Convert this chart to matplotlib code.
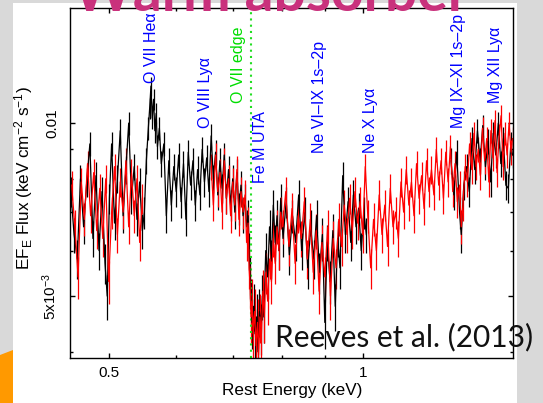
import matplotlib.pyplot as plt
from matplotlib.patches import Rectangle, Polygon
from matplotlib.ticker import FixedLocator, NullFormatter

plt.rcParams['font.family'] = ['Liberation Sans', 'DejaVu Sans']
plt.rcParams['mathtext.fontset'] = 'custom'
plt.rcParams['mathtext.rm'] = 'Liberation Sans'
plt.rcParams['mathtext.it'] = 'Liberation Sans:italic'

# black spectrum (flux in 1e-3 keV cm^-2 s^-1)
e_black_lo = [0.450, 0.454, 0.458, 0.462, 0.466, 0.470, 0.474, 0.478, 0.482, 0.486,
              0.490, 0.494, 0.497, 0.500, 0.503, 0.507, 0.511, 0.515, 0.519, 0.523,
              0.527, 0.531, 0.535, 0.539, 0.543, 0.547,
              0.550, 0.553, 0.556, 0.558, 0.560, 0.562, 0.564, 0.566, 0.568, 0.570,
              0.573, 0.576, 0.580, 0.584, 0.588, 0.592, 0.596, 0.600, 0.604, 0.608,
              0.612, 0.616, 0.620, 0.624, 0.628, 0.632, 0.636, 0.640, 0.644, 0.648,
              0.652, 0.656, 0.660, 0.664, 0.668, 0.672, 0.676, 0.680, 0.684, 0.688,
              0.692, 0.696, 0.700, 0.704, 0.708, 0.712, 0.716, 0.720,
              0.724, 0.727, 0.730, 0.732, 0.734, 0.736, 0.738, 0.741, 0.744, 0.747,
              0.750, 0.753, 0.756, 0.759, 0.762, 0.766, 0.770, 0.774, 0.778, 0.782,
              0.786, 0.790, 0.794, 0.798,
              0.803, 0.810, 0.817, 0.824, 0.831, 0.838, 0.845, 0.852, 0.859, 0.866,
              0.873, 0.880, 0.887, 0.894, 0.900, 0.906, 0.913, 0.920, 0.926, 0.932,
              0.938, 0.945, 0.952, 0.959, 0.966, 0.973, 0.980, 0.987, 0.994, 1.001,
              1.008]
f_black_lo = [7.6, 6.4, 5.8, 8.0, 6.6, 7.9, 9.2, 6.3, 8.1, 6.0,
              7.6, 5.7, 5.0, 7.4, 9.2, 6.7, 8.0, 9.7, 6.9, 8.3,
              10.0, 7.4, 8.4, 6.8, 7.9, 6.5,
              7.0, 8.6, 9.8, 10.6, 11.6, 10.2, 11.0, 9.7, 10.4, 9.1,
              9.8, 8.5, 9.2, 6.9, 8.6, 7.2, 8.4, 7.6, 8.8, 7.3,
              8.5, 6.8, 8.9, 7.8, 8.6, 7.2, 8.3, 7.5, 9.0, 7.9,
              8.7, 7.6, 9.5, 8.0, 8.9, 7.5, 8.6, 7.7, 8.8, 7.4,
              8.3, 7.2, 8.0, 7.0, 8.2, 7.1, 7.8, 6.9,
              7.4, 6.6, 6.9, 6.0, 5.4, 4.9, 4.5, 4.8, 4.3, 4.6,
              4.0, 4.7, 4.4, 5.0, 4.6, 6.0, 5.4, 6.6, 5.8, 7.2,
              6.2, 6.9, 6.0, 7.4,
              6.3, 7.3, 5.9, 6.9, 6.2, 7.5, 6.0, 7.0, 5.6, 6.6,
              5.8, 6.9, 5.5, 6.4, 4.5, 6.2, 5.3, 6.5, 4.8, 6.3,
              5.6, 8.1, 6.4, 7.3, 6.2, 7.5, 6.6, 7.1, 6.0, 7.0,
              6.4]
e_black_hi = [1.270, 1.280, 1.290, 1.300, 1.306, 1.315, 1.325, 1.335, 1.345, 1.355,
              1.365, 1.375, 1.385, 1.395, 1.405, 1.415, 1.425, 1.435, 1.445, 1.455,
              1.465, 1.475, 1.485, 1.495, 1.502]
f_black_hi = [8.6, 7.5, 8.9, 7.0, 6.4, 7.8, 8.4, 7.6, 9.4, 8.3,
              9.7, 8.6, 9.9, 8.4, 9.3, 7.9, 9.6, 8.8, 10.0, 8.5,
              9.4, 7.8, 7.7, 9.2, 8.8]

# red spectrum
e_red_a = [0.451, 0.455, 0.459, 0.463, 0.467, 0.471, 0.475, 0.479, 0.483, 0.487,
           0.491, 0.495, 0.499, 0.503, 0.507, 0.511, 0.515, 0.519, 0.523, 0.527,
           0.531, 0.535, 0.539, 0.543, 0.547]
f_red_a = [7.8, 6.6, 5.4, 7.9, 6.8, 8.5, 6.9, 8.2, 6.5, 7.7,
           6.3, 8.0, 5.3, 7.0, 8.4, 6.4, 7.9, 7.0, 8.6, 6.6,
           8.2, 6.9, 8.0, 6.2, 7.4]
e_red_b = [0.660, 0.664, 0.668, 0.672, 0.676, 0.680, 0.684, 0.688, 0.692, 0.696,
           0.700, 0.704, 0.708, 0.712, 0.716, 0.720, 0.724, 0.727, 0.730, 0.732,
           0.734, 0.736, 0.738, 0.740, 0.743, 0.746, 0.749, 0.751, 0.754, 0.757,
           0.760, 0.763, 0.766, 0.770, 0.774, 0.778, 0.782, 0.786, 0.790, 0.794,
           0.798,
           0.802, 0.809, 0.816, 0.823, 0.830, 0.837, 0.844, 0.851, 0.858, 0.865,
           0.872, 0.879, 0.886, 0.893, 0.900, 0.907, 0.914, 0.921, 0.928, 0.935,
           0.942, 0.949, 0.956, 0.963, 0.970, 0.977, 0.984, 0.991, 0.998, 1.005,
           1.012, 1.020, 1.028, 1.036, 1.044, 1.052, 1.060, 1.068, 1.076, 1.084,
           1.092, 1.100, 1.108, 1.116, 1.124, 1.132, 1.140, 1.148, 1.156, 1.164,
           1.172, 1.180, 1.188, 1.196, 1.204, 1.212, 1.220, 1.228, 1.236, 1.244,
           1.252, 1.260, 1.268, 1.276, 1.284, 1.292, 1.300, 1.306, 1.312, 1.320,
           1.328, 1.336, 1.344, 1.352, 1.360, 1.368, 1.376, 1.384, 1.392, 1.400,
           1.408, 1.416, 1.424, 1.432, 1.440, 1.448, 1.456, 1.464, 1.472, 1.480,
           1.488, 1.496, 1.502]
f_red_b = [8.4, 7.2, 8.8, 7.6, 8.2, 7.0, 8.6, 7.4, 8.0, 6.9,
           7.9, 7.2, 8.3, 6.8, 7.6, 7.0, 7.5, 6.2, 6.7, 5.6,
           5.2, 4.6, 4.9, 4.3, 4.7, 4.1, 4.5, 3.95, 4.6, 4.3,
           5.1, 4.6, 5.5, 4.9, 5.8, 5.3, 6.3, 5.7, 6.6, 6.0,
           7.0,
           6.6, 7.6, 6.1, 7.1, 5.7, 6.9, 6.3, 7.3, 5.8, 6.8,
           5.5, 6.5, 5.1, 6.2, 5.4, 6.6, 5.0, 6.3, 5.6, 6.8,
           6.1, 7.2, 6.4, 7.4, 6.5, 7.6, 6.7, 7.3, 6.4, 8.4,
           6.9, 5.6, 6.8, 6.0, 7.5, 6.4, 7.2, 6.1, 7.7, 6.6,
           7.0, 6.3, 7.9, 7.0, 8.3, 7.2, 7.9, 6.9, 8.5, 7.4,
           8.1, 7.1, 8.6, 7.6, 8.3, 7.5, 9.0, 7.8, 8.6, 7.4,
           8.9, 7.9, 9.1, 7.6, 8.5, 7.3, 7.8, 6.6, 7.2, 8.4,
           7.9, 9.2, 8.3, 9.6, 8.4, 9.0, 8.1, 9.8, 8.6, 9.4,
           7.9, 9.7, 8.7, 10.1, 8.2, 9.5, 10.3, 8.4, 9.6, 8.8,
           10.0, 8.9, 9.4]
flux_err = 0.45  # size of the vertical error bars, same units

# line labels
line_names = ['O VII He\u03b1', 'O VIII Ly\u03b1', 'O VII edge', 'Fe M UTA',
              'Ne VI\u2013IX 1s\u20132p', 'Ne X Ly\u03b1', 'Mg IX\u2013XI 1s\u20132p', 'Mg XII Ly\u03b1']
line_e = [0.561, 0.6505, 0.7108, 0.7544, 0.8867, 1.0184, 1.296, 1.4326]
line_f = [0.01174, 0.00981, 0.01083, 0.00786, 0.00887, 0.00887, 0.0098, 0.01083]
line_col = ['#0000ff', '#0000ff', '#00dd00', '#0000ff', '#0000ff', '#0000ff', '#0000ff', '#0000ff']
edge_e = 0.7356

W, H = 543, 403
fig = plt.figure(figsize=(W / 100, H / 100), dpi=100, facecolor='#d9d9d9')
fig.patches.append(Rectangle((13 / W, 0), (517 - 13) / W, (H - 3) / H, transform=fig.transFigure,
                             facecolor='white', edgecolor='none', zorder=-2))
fig.patches.append(Polygon([(0, 0), (0, (H - 355) / H), (13 / W, (H - 350) / H), (13 / W, 0)],
                           closed=True, transform=fig.transFigure, facecolor='#ff9900',
                           edgecolor='none', zorder=-2))

ax = fig.add_axes([70 / W, (H - 357.5) / H, 442.5 / W, 350 / H])
ax.set_xscale('log')
ax.set_yscale('log')

scale = 1e-3
series = [(e_black_lo, f_black_lo, 'black'), (e_black_hi, f_black_hi, 'black'),
          (e_red_a, f_red_a, '#ff0000'), (e_red_b, f_red_b, '#ff0000')]
for e, f, c in series:
    ax.errorbar(e, [v * scale for v in f], yerr=flux_err * scale, fmt='-', color=c,
                lw=0.9, elinewidth=0.9, capsize=0)

ax.axvline(edge_e, color='#22dd22', ls=(0, (1, 2)), lw=1.5)

for name, e, f, c in zip(line_names, line_e, line_f, line_col):
    ax.text(e, f, name, rotation=90, ha='center', va='bottom', color=c, fontsize=11.5)

ax.set_xlim(0.449, 1.502)
ax.set_ylim(0.00391, 0.01589)

ax.xaxis.set_major_locator(FixedLocator([0.5, 1.0]))
ax.xaxis.set_minor_locator(FixedLocator([0.6, 0.7, 0.8, 0.9]))
ax.xaxis.set_minor_formatter(NullFormatter())
ax.set_xticklabels(['0.5', '1'])
ax.yaxis.set_major_locator(FixedLocator([0.005, 0.01]))
ax.yaxis.set_minor_locator(FixedLocator([0.004, 0.006, 0.007, 0.008, 0.009]))
ax.yaxis.set_minor_formatter(NullFormatter())
ax.set_yticklabels(['5x10$^{-3}$', '0.01'], rotation=90, va='center')

ax.tick_params(which='both', direction='in', top=True, right=True, width=1.0, labelsize=11)
ax.tick_params(which='major', length=3.8)
ax.tick_params(which='minor', length=2.4)
ax.tick_params(axis='x', pad=6)
ax.tick_params(axis='y', pad=8)
for s in ax.spines.values():
    s.set_linewidth(1.0)

ax.set_xlabel('Rest Energy (keV)', fontsize=12.3)
ax.xaxis.set_label_coords(0.503, -0.0957)
ax.xaxis.label.set_va('center')
ax.set_ylabel('EF$_\\mathrm{E}$ Flux (keV cm$^{-2}$ s$^{-1}$)', fontsize=12.3)
ax.yaxis.set_label_coords(-0.106, 0.513)
ax.yaxis.label.set_va('center')

fig.text(73 / W, (H - 11) / H, 'Warm absorber', ha='left', va='baseline', fontsize=41,
         fontweight='bold', family='Lato', color='#c9317c')
fig.text(275 / W, (H - 346.7) / H, 'Reeves et al. (2013)', ha='left', va='baseline', fontsize=21.5,
         fontweight='normal', family='Lato', color='#111111')

fig.savefig('out.png', dpi=100, facecolor=fig.get_facecolor())
